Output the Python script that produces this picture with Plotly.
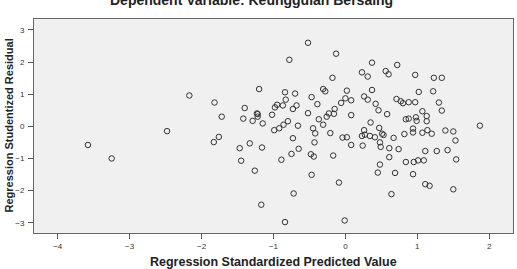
import plotly.graph_objects as go

# Regression Standardized Predicted Value
pred = [
    -0.52, -0.78, -0.13, -0.18, -1.20, -2.17, -1.82, -0.84, -0.70, -0.31,
    -0.28, -0.47, -0.39, -1.40, -1.72, -1.23, -1.22, -1.22, -1.42, -1.29,
    -1.02, -0.98, -0.95, -0.87, -0.68, -0.73, -0.83, -0.52, -0.37, -0.26,
    -0.23, -0.16, -0.15, -0.80, -1.15, 0.37, 0.72, 0.23, 0.31, 0.56,
    0.60, 0.97, 1.23, 1.34, 0.02, 0.37, 1.02, 1.22, 0.26, 0.31,
    0.00, 0.08, -0.06, 0.42, 0.71, 0.77, 0.80, 0.88, 0.97, 1.30,
    0.08, 0.46, 0.58, 1.07, 1.13, 1.34, 0.84, 0.88, 0.98, 0.99,
    1.13, 0.35, 1.87, -3.58, -3.25, -2.48, -1.76, -1.83, -1.47, -1.33,
    -1.16, -1.45, -1.26, -1.17, -0.84, -0.72, -0.99, -0.92, -0.86, -0.66,
    -0.73, -0.65, -0.75, -0.89, -0.45, -0.42, -0.43, -0.48, -0.44, -0.47,
    -0.31, -0.21, -0.17, -0.09, -0.01, 0.47, 0.26, -0.04, 0.02, 0.23,
    0.27, 0.34, 0.41, 0.51, 0.53, 0.08, 0.24, 0.48, 0.49, 0.67,
    0.61, 0.74, 0.61, 0.48, 0.45, 0.69, 0.64, 0.82, 0.94, 0.94,
    1.07, 1.14, 1.20, 1.39, 1.50, 1.53, 1.11, 1.27, 1.42, 1.54,
    0.84, 0.95, 1.01, 1.09, 0.94, 1.11, 1.17, 1.50,
]

# Regression Studentized Residual
resid = [
    2.60, 2.07, 2.26, 1.51, 1.16, 0.96, 0.74, 1.06, 1.02, 1.16,
    1.09, 0.91, 0.69, 0.57, 0.30, 0.40, 0.38, 0.30, 0.24, 0.17,
    0.36, 0.59, 0.67, 0.65, 0.65, 0.54, 0.83, 0.41, 0.22, 0.30,
    0.40, 0.39, 0.54, 0.16, 0.09, 1.98, 1.91, 1.68, 1.55, 1.72,
    1.62, 1.60, 1.51, 1.51, 1.11, 1.13, 1.07, 1.09, 0.93, 0.83,
    0.87, 0.81, 0.73, 0.70, 0.85, 0.78, 0.72, 0.75, 0.75, 0.74,
    0.35, 0.50, 0.38, 0.47, 0.32, 0.49, 0.22, 0.24, 0.28, 0.17,
    0.16, 0.12, 0.02, -0.58, -1.00, -0.15, -0.33, -0.49, -0.68, -0.53,
    -0.66, -1.07, -1.38, -2.44, -2.98, -2.09, -0.12, -0.06, 0.05, 0.02,
    -0.37, -0.70, -0.86, -1.04, -0.06, -0.22, -0.50, -0.87, -0.94, -1.51,
    0.05, -0.21, -0.91, -1.75, -2.93, -0.05, -0.12, -0.35, -0.34, -0.30,
    -0.26, -0.30, -0.34, -0.23, -0.27, -0.58, -0.60, -0.50, -0.64, -0.36,
    -0.68, -0.71, -0.96, -1.19, -1.44, -1.45, -2.11, -0.24, -0.07, -0.19,
    -0.20, -0.12, -0.23, -0.13, -0.16, -0.44, -0.77, -0.77, -0.74, -1.03,
    -1.11, -1.11, -1.06, -1.06, -1.49, -1.80, -1.85, -1.96,
]

x_ticks = [-4, -3, -2, -1, 0, 1, 2]
y_ticks = [-3, -2, -1, 0, 1, 2, 3]

title_text = "Dependent Variable: Keunggulan Bersaing"
x_title = "Regression Standardized Predicted Value"
y_title = "Regression Studentized Residual"

FONT = "Liberation Sans, Arial, sans-serif"

fig = go.Figure()
fig.add_trace(go.Scatter(
    x=pred, y=resid, mode="markers",
    marker=dict(symbol="circle-open", size=5.5, color="#333333",
                line=dict(width=1, color="#333333")),
    hoverinfo="skip", showlegend=False,
))

axis_common = dict(
    showgrid=False, zeroline=False, showline=True, mirror=True,
    linecolor="#666666", linewidth=1,
    ticks="outside", ticklen=5, tickwidth=1, tickcolor="#555555",
    tickfont=dict(family=FONT, size=8, color="#333333"),
)

fig.update_layout(
    width=517, height=269,
    margin=dict(l=34, r=4, t=19, b=36),
    paper_bgcolor="white",
    plot_bgcolor="#F0F0F0",
    xaxis=dict(range=[-4.33, 2.33], tickvals=x_ticks, **axis_common),
    yaxis=dict(range=[-3.32, 3.34], tickvals=y_ticks, ticklabelstandoff=2, **axis_common),
    annotations=[
        dict(text="<b>" + title_text + "</b>", xref="paper", yref="paper",
             x=0.455, y=1.089, xanchor="center", yanchor="middle", showarrow=False,
             font=dict(family=FONT, size=14, color="#222222")),
        dict(text="<b>" + x_title + "</b>", xref="paper", yref="paper",
             x=0.5, y=-0.1355, xanchor="center", yanchor="middle", showarrow=False,
             font=dict(family=FONT, size=12.5, color="#222222")),
        dict(text="<b>" + y_title + "</b>", xref="paper", yref="paper",
             x=-0.0532, y=0.5, xanchor="center", yanchor="middle", showarrow=False,
             textangle=-90,
             font=dict(family=FONT, size=11, color="#222222")),
    ],
)

fig.write_html("out.html")
